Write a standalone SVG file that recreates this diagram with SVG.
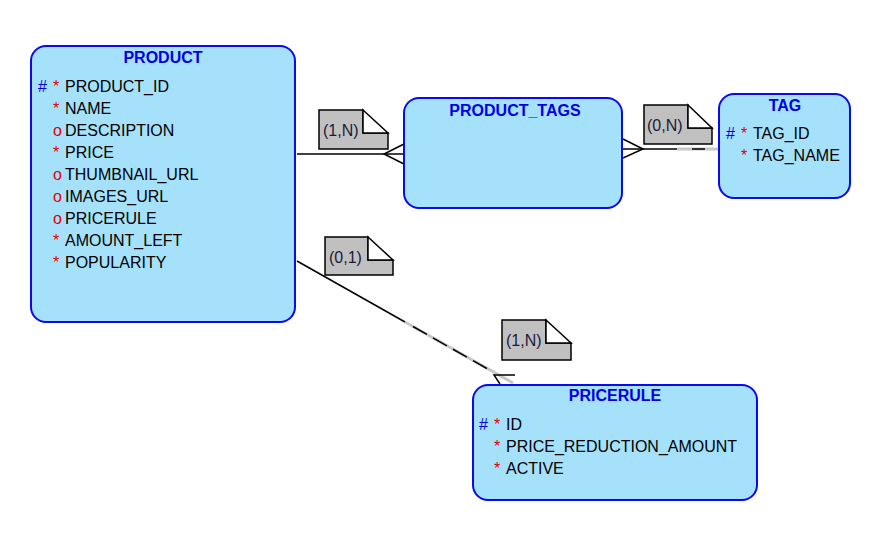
<svg xmlns="http://www.w3.org/2000/svg" width="877" height="548" viewBox="0 0 877 548">
<style>
.ent{fill:#a6e1fc;stroke:#0a0af0;stroke-width:2}
.title{font-family:"Liberation Sans",Arial,sans-serif;font-weight:bold;font-size:16px;fill:#0000e6;text-anchor:middle}
.attr{font-family:"Liberation Sans",Arial,sans-serif;font-size:16px;fill:#000}
.pk{font-family:"Liberation Sans",Arial,sans-serif;font-size:16px;fill:#0000e6}
.mk{font-family:"Liberation Sans",Arial,sans-serif;font-size:16px;fill:#e00000}
.ln{stroke:#000;stroke-width:1.5;fill:none}
.gl{stroke:#c8c8c8;stroke-width:3;fill:none}
.note{fill:#c0c0c0;stroke:#000;stroke-width:1.5}
.fold{fill:#fff;stroke:#000;stroke-width:1.5}
.lbl{font-family:"Liberation Sans",Arial,sans-serif;font-size:16px;fill:#1a1a3a}
</style>
<rect width="877" height="548" fill="#fff"/>
<g id="connectors">
  <line class="ln" x1="297" y1="154" x2="404" y2="154"/>
  <polyline class="ln" points="404,144 384,154 404,164"/>
  <line class="gl" x1="677" y1="149" x2="719" y2="149"/>
  <line class="ln" x1="622" y1="149" x2="677" y2="149"/>
  <line class="ln" x1="692" y1="149" x2="705" y2="149"/>
  <polyline class="ln" points="623,139 643,149 623,158"/>
  <line class="gl" x1="405" y1="322" x2="513" y2="383" stroke-width="2.5"/>
  <line class="ln" x1="297" y1="261" x2="405" y2="322"/>
  <line class="ln" x1="413" y1="326.5" x2="493" y2="372" stroke-dasharray="16,7"/>
  <polyline class="ln" points="515,375 494,375 500,384"/>
</g>
<g id="label-1N-top">
  <polygon class="note" points="319,110 363,110 363,133 388,133 388,149 319,149"/>
  <polygon class="fold" points="363,110 388,133 363,133"/>
  <text class="lbl" x="323" y="136">(1,N)</text>
</g>
<g id="label-0N">
  <polygon class="note" points="644,105 688,105 688,128 712,128 712,144 644,144"/>
  <polygon class="fold" points="688,105 712,128 688,128"/>
  <text class="lbl" x="647" y="131">(0,N)</text>
</g>
<g id="label-01">
  <polygon class="note" points="325,237 368,237 368,260 393,260 393,275 325,275"/>
  <polygon class="fold" points="368,237 393,260 368,260"/>
  <text class="lbl" x="329" y="263">(0,1)</text>
</g>
<g id="label-1N-bottom">
  <polygon class="note" points="502,320 546,320 546,343 571,343 571,360 502,360"/>
  <polygon class="fold" points="546,320 571,343 546,343"/>
  <text class="lbl" x="506" y="346">(1,N)</text>
</g>
<g id="PRODUCT">
  <rect class="ent" x="31" y="46" width="264" height="276" rx="15"/>
  <text class="title" x="163" y="63">PRODUCT</text>
  <text class="pk" x="38" y="92">#</text>
  <text class="mk" x="53" y="92">*</text><text class="attr" x="65" y="92">PRODUCT_ID</text>
  <text class="mk" x="53" y="114">*</text><text class="attr" x="65" y="114">NAME</text>
  <text class="mk" x="53" y="136">o</text><text class="attr" x="65" y="136">DESCRIPTION</text>
  <text class="mk" x="53" y="158">*</text><text class="attr" x="65" y="158">PRICE</text>
  <text class="mk" x="53" y="180">o</text><text class="attr" x="65" y="180">THUMBNAIL_URL</text>
  <text class="mk" x="53" y="202">o</text><text class="attr" x="65" y="202">IMAGES_URL</text>
  <text class="mk" x="53" y="224">o</text><text class="attr" x="65" y="224">PRICERULE</text>
  <text class="mk" x="53" y="246">*</text><text class="attr" x="65" y="246">AMOUNT_LEFT</text>
  <text class="mk" x="53" y="268">*</text><text class="attr" x="65" y="268">POPULARITY</text>
</g>
<g id="PRODUCT_TAGS">
  <rect class="ent" x="404" y="98" width="218" height="110" rx="15"/>
  <text class="title" x="515" y="116">PRODUCT_TAGS</text>
</g>
<g id="TAG">
  <rect class="ent" x="719" y="94" width="131" height="104" rx="15"/>
  <text class="title" x="785" y="111">TAG</text>
  <text class="pk" x="726" y="139">#</text>
  <text class="mk" x="741" y="139">*</text><text class="attr" x="753" y="139">TAG_ID</text>
  <text class="mk" x="741" y="161">*</text><text class="attr" x="753" y="161">TAG_NAME</text>
</g>
<g id="PRICERULE">
  <rect class="ent" x="473" y="385" width="284" height="115" rx="15"/>
  <text class="title" x="615" y="401">PRICERULE</text>
  <text class="pk" x="479" y="430">#</text>
  <text class="mk" x="494" y="430">*</text><text class="attr" x="506" y="430">ID</text>
  <text class="mk" x="494" y="452">*</text><text class="attr" x="506" y="452">PRICE_REDUCTION_AMOUNT</text>
  <text class="mk" x="494" y="474">*</text><text class="attr" x="506" y="474">ACTIVE</text>
</g>
</svg>
